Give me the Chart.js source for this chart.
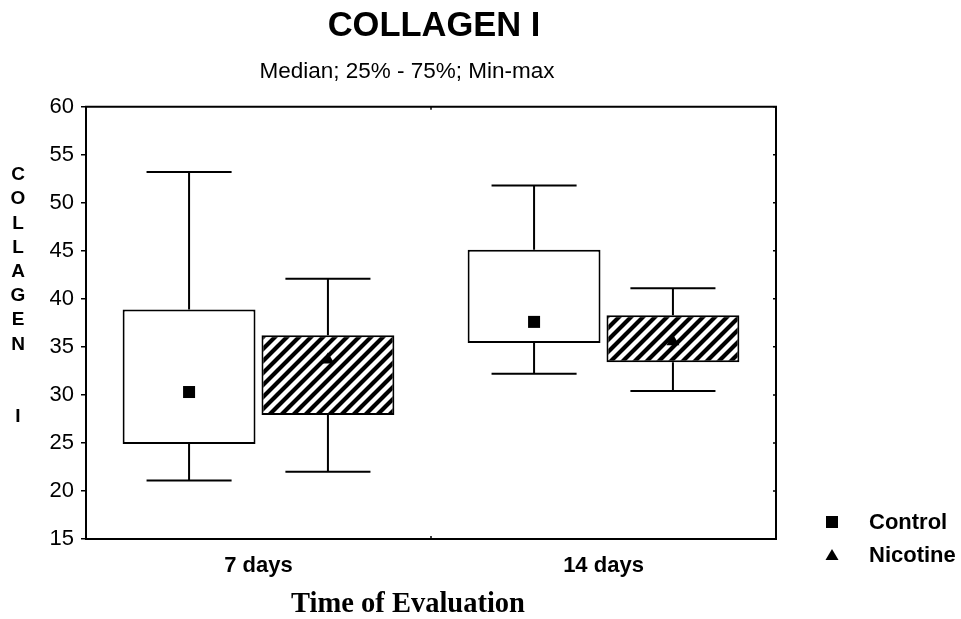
<!DOCTYPE html>
<html><head><meta charset="utf-8">
<script src="https://cdn.jsdelivr.net/npm/chart.js@4"></script>
<style>html,body{margin:0;padding:0;background:#fff;}canvas{display:block;}</style>
</head><body>
<canvas id="c" width="961" height="619"></canvas>
<script>
// ---- data ----
const categories = ['7 days', '14 days'];
const seriesNames = ['Control', 'Nicotine'];
const controlMin    = [21.1, 32.2];
const controlQ1     = [24.9, 35.4];
const controlMedian = [30.3, 37.6];
const controlQ3     = [38.9, 45.1];
const controlMax    = [53.2, 51.8];
const nicotineMin    = [22.0, 30.4];
const nicotineQ1     = [27.9, 33.4];
const nicotineMedian = [33.8, 35.7];
const nicotineQ3     = [36.2, 38.3];
const nicotineMax    = [42.1, 41.1];
const yTicks = [15, 20, 25, 30, 35, 40, 45, 50, 55, 60];
const yTitleLetters = ['C','O','L','L','A','G','E','N','','','I'];
const titleText = 'COLLAGEN I';
const subtitleText = 'Median; 25% - 75%; Min-max';
const xTitleText = 'Time of Evaluation';

const SANS = "'Liberation Sans', Arial, sans-serif";
const SERIF = "'Liberation Serif', 'Times New Roman', serif";

// hatch pattern
function makeHatch() {
  const s = 12;
  const c = document.createElement('canvas');
  c.width = s; c.height = s;
  const g = c.getContext('2d');
  g.fillStyle = '#fff'; g.fillRect(0, 0, s, s);
  g.strokeStyle = '#000'; g.lineWidth = 4.2;
  g.beginPath();
  for (const k of [0, s, 2 * s]) {
    g.moveTo(-s, k + s); g.lineTo(k + s, -s);
  }
  g.stroke();
  return g.createPattern(c, 'repeat');
}
const hatch = makeHatch();

const stats = [
  {min: controlMin, q1: controlQ1, med: controlMedian, q3: controlQ3, max: controlMax, marker: 'square'},
  {min: nicotineMin, q1: nicotineQ1, med: nicotineMedian, q3: nicotineQ3, max: nicotineMax, marker: 'triangle'}
];

function drawMarker(ctx, type, x, y) {
  ctx.fillStyle = '#000';
  if (type === 'square') {
    ctx.fillRect(x - 6, y - 6, 12, 12);
  } else {
    ctx.beginPath();
    ctx.moveTo(x, y - 6);
    ctx.lineTo(x + 6.5, y + 5);
    ctx.lineTo(x - 6.5, y + 5);
    ctx.closePath();
    ctx.fill();
  }
}

const boxPlugin = {
  id: 'boxExtras',
  beforeDraw(chart) {
    const ctx = chart.ctx;
    ctx.save();
    ctx.fillStyle = '#fff';
    ctx.fillRect(0, 0, chart.width, chart.height);
    ctx.restore();
  },
  afterDatasetsDraw(chart) {
    const ctx = chart.ctx;
    const y = chart.scales.y;
    ctx.save();
    ctx.strokeStyle = '#000';
    ctx.lineWidth = 2;
    stats.forEach((st, di) => {
      const meta = chart.getDatasetMeta(di);
      meta.data.forEach((el, i) => {
        const x = el.x;
        const capHalf = el.width * 0.32;
        const pMin = y.getPixelForValue(st.min[i]);
        const pMax = y.getPixelForValue(st.max[i]);
        const pQ1 = y.getPixelForValue(st.q1[i]);
        const pQ3 = y.getPixelForValue(st.q3[i]);
        ctx.beginPath();
        ctx.moveTo(x, pQ3); ctx.lineTo(x, pMax);
        ctx.moveTo(x - capHalf, pMax); ctx.lineTo(x + capHalf, pMax);
        ctx.moveTo(x, pQ1); ctx.lineTo(x, pMin);
        ctx.moveTo(x - capHalf, pMin); ctx.lineTo(x + capHalf, pMin);
        ctx.stroke();
        drawMarker(ctx, st.marker, x, y.getPixelForValue(st.med[i]));
      });
    });
    ctx.restore();
  },
  afterDraw(chart) {
    const ctx = chart.ctx;
    const a = chart.chartArea;
    const xs = chart.scales.x, ys = chart.scales.y;
    ctx.save();
    ctx.strokeStyle = '#000';
    ctx.lineWidth = 2;
    // top and right frame
    ctx.beginPath();
    ctx.moveTo(a.left - 1, a.top); ctx.lineTo(a.right, a.top); ctx.lineTo(a.right, a.bottom + 1);
    ctx.stroke();
    // inner ticks on right frame
    ctx.lineWidth = 1.5;
    ctx.beginPath();
    yTicks.forEach(v => {
      const py = ys.getPixelForValue(v);
      ctx.moveTo(a.right - 3, py); ctx.lineTo(a.right, py);
    });
    // mid category boundary ticks top & bottom
    const mid = (xs.getPixelForValue(0) + xs.getPixelForValue(1)) / 2;
    ctx.moveTo(mid, a.top); ctx.lineTo(mid, a.top + 3);
    ctx.moveTo(mid, a.bottom); ctx.lineTo(mid, a.bottom - 3);
    ctx.stroke();

    ctx.fillStyle = '#000';
    ctx.textBaseline = 'middle';
    ctx.textAlign = 'center';

    // subtitle
    ctx.font = "22.5px " + SANS;
    ctx.fillText(subtitleText, 407, 72);

    // x-axis title
    ctx.font = "bold 28.5px " + SERIF;
    ctx.fillText(xTitleText, 408, 605);

    // vertical stacked y-axis title
    ctx.font = "bold 19px " + SANS;
    yTitleLetters.forEach((ch, i) => {
      if (ch) ctx.fillText(ch, 18, 175 + i * 24.2);
    });

    // legend
    ctx.font = "bold 22px " + SANS;
    ctx.textAlign = 'left';
    seriesNames.forEach((name, i) => {
      const ly = 522 + i * 33;
      drawMarker(ctx, stats[i].marker, 832, ly);
      ctx.fillStyle = '#000';
      ctx.fillText(name, 869, ly + 1);
    });
    ctx.restore();
  }
};

new Chart(document.getElementById('c'), {
  type: 'bar',
  data: {
    labels: categories,
    datasets: [
      {
        label: seriesNames[0],
        data: controlQ1.map((q, i) => [q, controlQ3[i]]),
        backgroundColor: '#fff',
        borderColor: '#000',
        borderWidth: 2,
        borderSkipped: false
      },
      {
        label: seriesNames[1],
        data: nicotineQ1.map((q, i) => [q, nicotineQ3[i]]),
        backgroundColor: hatch,
        borderColor: '#000',
        borderWidth: 2,
        borderSkipped: false
      }
    ]
  },
  options: {
    responsive: false,
    animation: false,
    devicePixelRatio: 1,
    categoryPercentage: 0.805,
    barPercentage: 0.957,
    layout: {padding: {left: 0, right: 93, top: 0, bottom: 0}},
    plugins: {
      legend: {display: false},
      tooltip: {enabled: false},
      title: {
        display: true, text: titleText, color: '#000',
        font: {family: SANS, size: 34.5, weight: 'bold', lineHeight: 1.2},
        padding: {top: 6, bottom: 59.3}
      },
      subtitle: {display: false}
    },
    scales: {
      x: {
        grid: {display: false, drawTicks: false},
        border: {display: true, color: '#000', width: 2},
        ticks: {color: '#000', font: {family: SANS, size: 22, weight: 'bold'}, padding: 14},
        title: {display: false},
        afterFit: (s) => { s.height = 80; }
      },
      y: {
        min: yTicks[0],
        max: yTicks[yTicks.length - 1],
        afterBuildTicks: (s) => { s.ticks = yTicks.map(v => ({value: v})); },
        grid: {drawOnChartArea: false, drawTicks: true, tickLength: 5, color: '#000', lineWidth: 1.5},
        border: {display: true, color: '#000', width: 2},
        ticks: {color: '#000', font: {family: SANS, size: 22}, padding: 7},
        afterFit: (s) => { s.width = 86; }
      },
      yRightSpace: {
        type: 'linear',
        position: 'right',
        display: true,
        grid: {display: false, drawTicks: false},
        border: {display: false},
        ticks: {display: false},
        afterFit: (s) => { s.width = 92; }
      }
    }
  },
  plugins: [boxPlugin]
});
</script>
</body></html>
